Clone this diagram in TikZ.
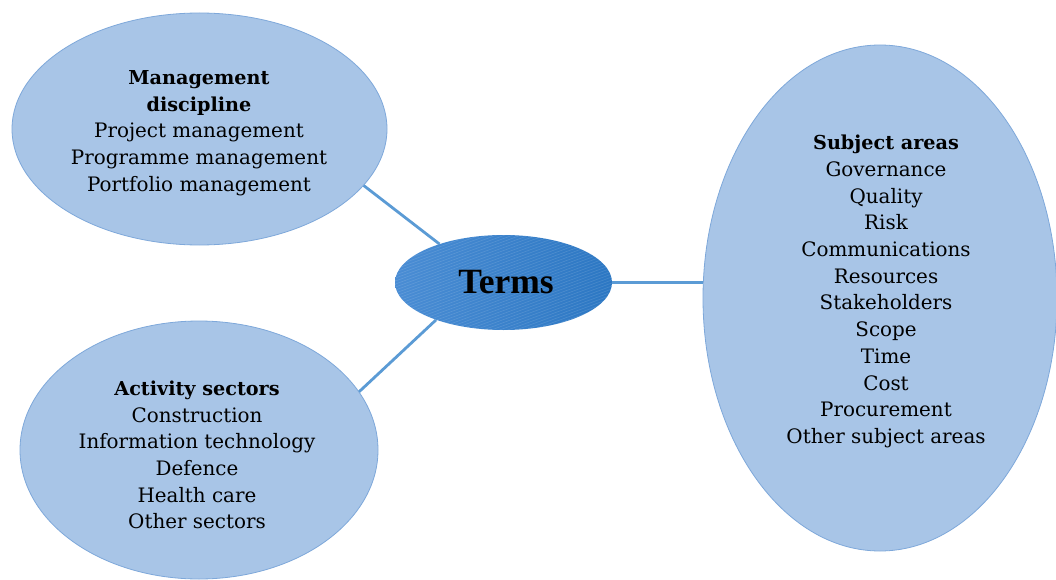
\documentclass[tikz,border=0pt]{standalone}
\usepackage{fontspec}
\setmainfont{DejaVu Serif}
\newfontfamily\termsfont{Liberation Serif}
\usetikzlibrary{shapes.geometric}
\definecolor{outerfill}{HTML}{A8C5E7}
\definecolor{outerline}{HTML}{7EA8DA}
\definecolor{linkblue}{HTML}{5B9BD5}
\definecolor{hubleft}{HTML}{4A8DD4}
\definecolor{hubright}{HTML}{2C77C3}
\newcommand{\hdline}[1]{{\bfseries\fontsize{19.2}{26.7}\selectfont #1}}
\begin{document}
\begin{tikzpicture}[x=1pt,y=-1pt,
  bubble/.style={ellipse,draw=outerline,line width=0.8pt,fill=outerfill,inner sep=0pt},
  bubbletext/.style={align=center,inner sep=0pt,font=\fontsize{19.9}{26.7}\selectfont},
  link/.style={draw=linkblue,line width=2.8pt}]
\useasboundingbox (0,0) rectangle (1056,580);
\clip (0,0) rectangle (1056,580);
\fill[white] (0,0) rectangle (1056,580);

% outer bubbles
\node[bubble,minimum width=375pt,minimum height=232pt] (mgmt) at (199.5,129) {};
\node[bubble,minimum width=358pt,minimum height=258pt] (sect) at (199,450) {};
\node[bubble,minimum width=354pt,minimum height=506pt] (subj) at (880,298) {};

% hub
\node[ellipse,inner sep=0pt,minimum width=217pt,minimum height=95pt,
      left color=hubleft,right color=hubright] (hub) at (503.5,282.5) {};
\begin{scope}
  \clip (503.5,282.5) ellipse [x radius=108.5,y radius=47.5];
  \foreach \k in {0,...,70} {
    \draw[white,opacity=0.13,line width=0.6pt] (390,{235+3*\k}) -- (620,{151+3*\k});
  }
\end{scope}
\node[font=\termsfont\bfseries\fontsize{35.5}{40}\selectfont,inner sep=0pt] (terms) at (506,282) {Terms};

% texts
\node[bubbletext] (mgmttext) at (199,133)
  {\hdline{Management}\\\hdline{discipline}\\Project management\\Programme management\\Portfolio management};
\node[bubbletext] (secttext) at (197,455)
  {\hdline{Activity sectors}\\Construction\\Information technology\\Defence\\Health care\\Other sectors};
\node[bubbletext] (subjtext) at (886,291.5)
  {\hdline{Subject areas}\\Governance\\Quality\\Risk\\Communications\\Resources\\Stakeholders\\Scope\\Time\\Cost\\Procurement\\Other subject areas};

% connectors
\draw[link] (mgmt.-19.4) -- (hub.149.4);
\draw[link] (sect.20.5) -- (hub.-151.9);
\draw[link] (hub.east) -- (hub.east -| subj.west);
\end{tikzpicture}
\end{document}
